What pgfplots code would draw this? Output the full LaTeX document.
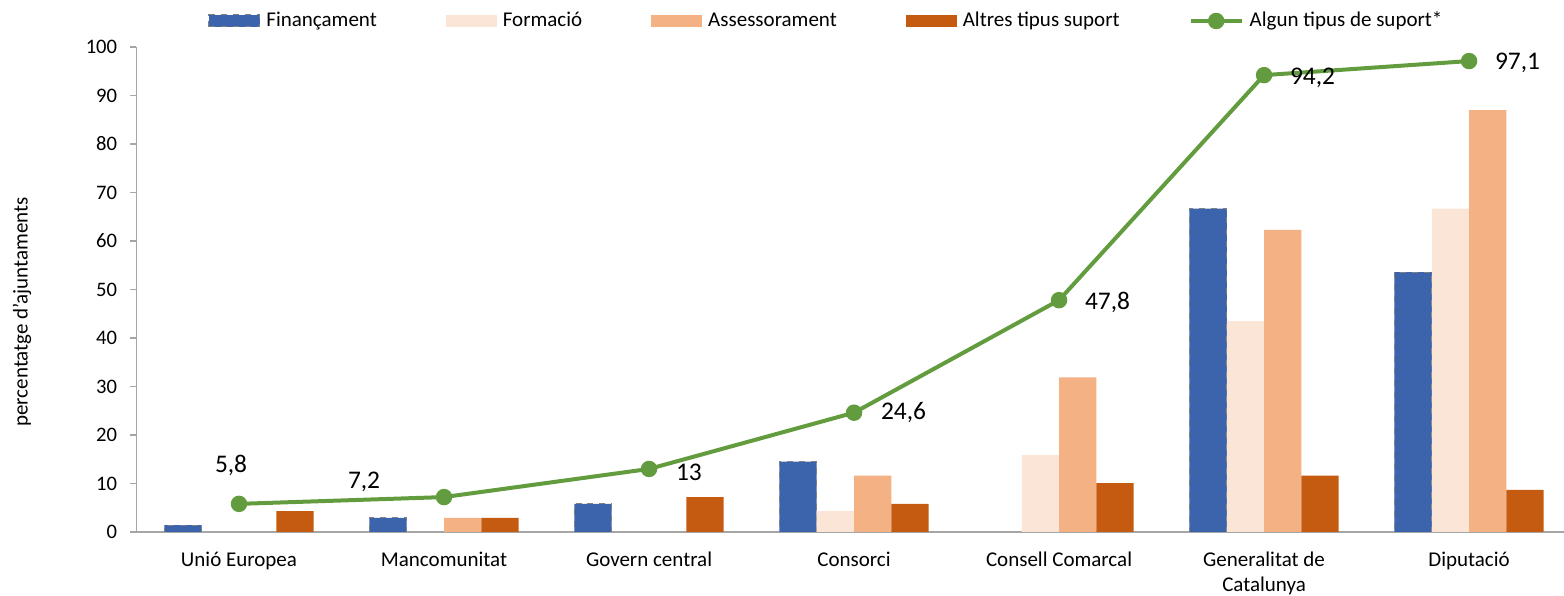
\documentclass[border=0pt]{standalone}
\usepackage{fontspec}
\setmainfont{Carlito}
\usepackage{pgfplots}
\usepackage{pgfplotstable}
\pgfplotsset{compat=1.18}
\usetikzlibrary{calc}

\definecolor{cFin}{HTML}{3B64AD}
\definecolor{cFor}{HTML}{FBE5D6}
\definecolor{cAss}{HTML}{F4B183}
\definecolor{cAlt}{HTML}{C55A11}
\definecolor{cLin}{HTML}{629C3E}
\definecolor{cAx}{HTML}{A6A6A6}

\pgfplotsset{
  barleg/.style={legend image code/.code={\fill[##1] (0bp,-3bp) rectangle (25.5bp,3bp);}},
  finleg/.style={legend image code/.code={\draw[##1] (0bp,-3bp) rectangle (25.5bp,3bp);}},
  lineleg/.style={legend image code/.code={\draw[mark repeat=2,mark phase=2,##1] plot coordinates {(0bp,0bp) (12.75bp,0bp) (25.5bp,0bp)};}},
}

% percentatge d'ajuntaments per tipus de suport
\pgfplotstableread{
x   Fin   For   Ass   Alt
0   1.4   0     0     4.3
1   2.9   0     2.9   2.9
2   5.8   0     0     7.2
3   14.5  4.3   11.6  5.8
4   0     15.9  31.9  10.1
5   66.7  43.5  62.3  11.6
6   53.6  66.7  87.0  8.7
}\bars

% algun tipus de suport, amb desplacament de l'etiqueta (bp)
\pgfplotstableread{
x   y     dx     dy
0   5.8   -13    19
1   7.2   -49    7.5
2   13    12.5   -1.5
3   24.6  12.5   0
4   47.8  12     -1
5   94.2  12     -1.5
6   97.1  12     -1
}\suport

\begin{document}
\begin{tikzpicture}
\begin{axis}[
  scale only axis,
  width=713.75bp, height=242.5bp,
  xmin=-0.5, xmax=6.463, ymin=0, ymax=100,
  axis lines*=left,
  axis line style={cAx, line width=0.75bp},
  xtick={0,...,6},
  xticklabels={Unió Europea, Mancomunitat, Govern central, Consorci, Consell Comarcal, {Generalitat de\\Catalunya}, Diputació},
  xtick style={draw=none},
  xticklabel style={font=\fontsize{10.5bp}{12.2bp}\selectfont, align=center, inner sep=0pt, yshift=-7bp},
  ytick={0,10,...,100},
  tick align=outside,
  major tick length=3bp,
  ytick style={cAx, line width=0.75bp},
  yticklabel style={font=\fontsize{10.3bp}{12bp}\selectfont, inner sep=0pt, xshift=-6.5bp},
  /pgf/number format/assume math mode=true,
  ylabel={percentatge d'ajuntaments},
  ylabel style={font=\fontsize{10.5bp}{12bp}\selectfont, at={(axis description cs:-0.0802,0.4536)}, anchor=center},
  legend columns=5,
  legend style={at={(0.0501,1)}, anchor=west, yshift=13bp, draw=none, fill=none, inner sep=0pt,
    font=\fontsize{10.5bp}{12bp}\selectfont, column sep=3bp,
    nodes={inner sep=0pt},
    /tikz/every even column/.append style={column sep=34.5bp}},
  legend cell align=left,
]
\addplot[ybar, bar width=18.65bp, bar shift=-27.975bp, fill=cFin, draw=gray, dashed, line width=0.5bp, finleg]
  table[x=x, y=Fin] {\bars};
\addlegendentry{Finançament}
\addplot[ybar, bar width=18.65bp, bar shift=-9.325bp, fill=cFor, draw=none, barleg]
  table[x=x, y=For] {\bars};
\addlegendentry{Formació}
\addplot[ybar, bar width=18.65bp, bar shift=9.325bp, fill=cAss, draw=none, barleg]
  table[x=x, y=Ass] {\bars};
\addlegendentry{Assessorament}
\addplot[ybar, bar width=18.65bp, bar shift=27.975bp, fill=cAlt, draw=none, barleg]
  table[x=x, y=Alt] {\bars};
\addlegendentry{Altres tipus suport}
\addplot[sharp plot, cLin, line width=2bp, mark=*, mark size=3.1bp, mark options={fill=cLin, draw=cLin, solid}, lineleg,
  nodes near coords={\pgfmathprintnumber[use comma]{\pgfplotspointmeta}},
  point meta=y,
  visualization depends on={\thisrow{dx} \as \ddx},
  visualization depends on={\thisrow{dy} \as \ddy},
  every node near coord/.append style={anchor=west, inner sep=0pt, xshift=\ddx bp, yshift=\ddy bp,
    font=\fontsize{12.7bp}{15bp}\selectfont, text=black},
] table[x=x, y=y] {\suport};
\addlegendentry{Algun tipus de suport*}
\coordinate (bl) at (rel axis cs:0,0);
\coordinate (tr) at (rel axis cs:1,1);
\end{axis}
\pgfresetboundingbox
\path[use as bounding box] ($(bl)+(-68.25bp,-32bp)$) rectangle ($(tr)+(0bp,23.5bp)$);
\end{tikzpicture}
\end{document}
